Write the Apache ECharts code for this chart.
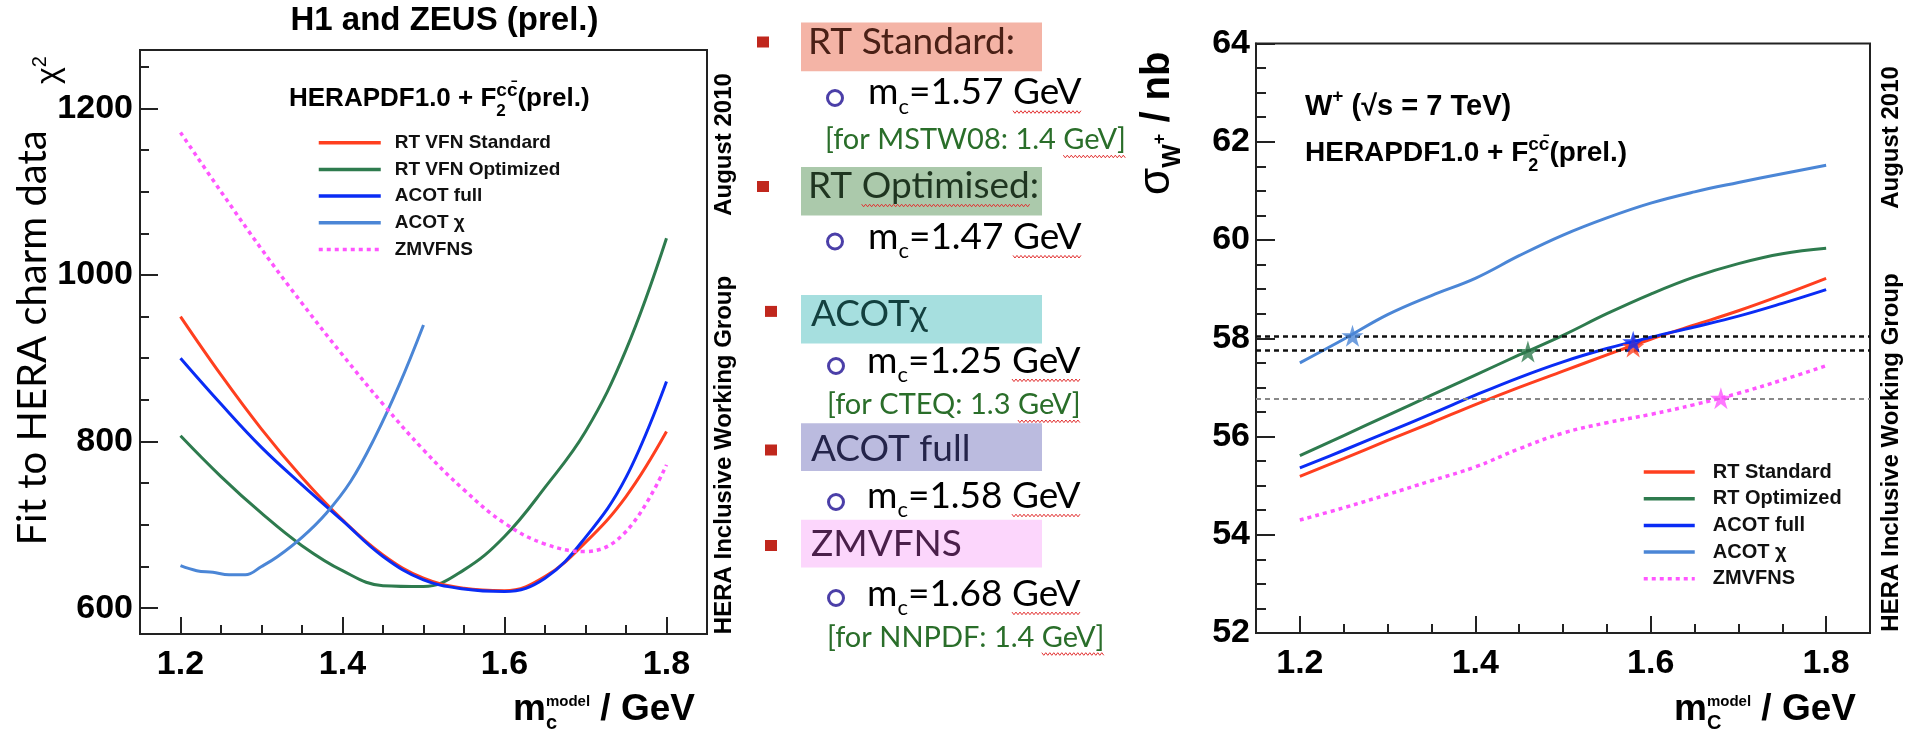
<!DOCTYPE html>
<html>
<head>
<meta charset="utf-8">
<script src="https://cdn.jsdelivr.net/npm/echarts@6/dist/echarts.min.js"></script>
<style>
  html, body { margin: 0; padding: 0; background: #fff; }
  #chart { width: 1912px; height: 731px; }
</style>
</head>
<body>
<div id="chart"></div>
<script>
// ---- left panel: chi2 of the fit to HERA charm data vs m_c ----
const mcGrid = [1.2, 1.25, 1.3, 1.35, 1.4, 1.45, 1.5, 1.55, 1.6, 1.65, 1.7, 1.75, 1.8];
const chi2RtStandard = [950, 880, 815, 757, 706, 664, 636, 624, 621, 638, 679, 734, 812];
const chi2RtOptimized = [807, 758, 714, 675, 645, 627, 626, 646, 686, 745, 812, 910, 1044];
const chi2AcotFull = [900, 845, 793, 748, 705, 662, 634, 623, 620, 636, 685, 757, 872];
const chi2Zmvfns = [1171, 1100, 1031, 966, 904, 845, 790, 742, 702, 677, 668, 692, 772];
const mcAcotChi = [1.2, 1.22, 1.24, 1.26, 1.28, 1.3, 1.32, 1.35, 1.38, 1.41, 1.44, 1.47, 1.5];
const chi2AcotChi = [651, 645, 643, 640, 640, 650, 662, 685, 714, 752, 805, 868, 940];

// ---- right panel: W+ cross section at 7 TeV vs m_c ----
const sigmaRtStandard = [55.19, 55.55, 55.92, 56.28, 56.65, 57.0, 57.33, 57.66, 57.98, 58.27, 58.56, 58.88, 59.22];
const sigmaRtOptimized = [55.61, 56.02, 56.43, 56.84, 57.25, 57.66, 58.06, 58.5, 58.9, 59.25, 59.52, 59.72, 59.83];
const sigmaAcotFull = [55.36, 55.72, 56.09, 56.46, 56.84, 57.2, 57.52, 57.79, 58.02, 58.23, 58.45, 58.71, 58.99];
const sigmaAcotChi = [57.5, 57.98, 58.48, 58.87, 59.22, 59.68, 60.1, 60.45, 60.75, 60.98, 61.17, 61.35, 61.52];
const sigmaZmvfns = [54.3, 54.55, 54.82, 55.1, 55.38, 55.75, 56.07, 56.28, 56.45, 56.65, 56.88, 57.15, 57.44];

// best-fit points (stars) and the horizontal reference lines through them
const starMc = [1.26, 1.46, 1.58, 1.58, 1.68];
const starSigma = [58.05, 57.73, 57.83, 57.93, 56.78];
const starScheme = ['acotChi', 'rtOpt', 'rtStd', 'acotFull', 'zm'];
const refSigma = [58.05, 57.75, 56.77];

// ticks
const mcMajorTicks = [1.2, 1.4, 1.6, 1.8];
const mcMinorTicks = [1.2, 1.25, 1.3, 1.35, 1.4, 1.45, 1.5, 1.55, 1.6, 1.65, 1.7, 1.75, 1.8];
const chi2MajorTicks = [600, 800, 1000, 1200];
const chi2MinorTicks = [600, 650, 700, 750, 800, 850, 900, 950, 1000, 1050, 1100, 1150, 1200, 1250];

// legend names
const leftNames = ['RT VFN Standard', 'RT VFN Optimized', 'ACOT full', 'ACOT χ', 'ZMVFNS'];
const rightNames = ['RT Standard', 'RT Optimized', 'ACOT full', 'ACOT χ', 'ZMVFNS'];

// middle panel text
const schemeLabels = ['RT Standard:', 'RT Optimised:', 'ACOTχ', 'ACOT full', 'ZMVFNS'];
const bestMc = ['1.57', '1.47', '1.25', '1.58', '1.68'];
const otherNotes = ['[for MSTW08: 1.4 GeV]', null, '[for CTEQ: 1.3 GeV]', null, '[for NNPDF: 1.4 GeV]'];

const colors = {
  rtStd: '#ff3f1f',
  rtOpt: '#2e7b4e',
  acotFull: '#0a2cf5',
  acotChi: '#4b86d6',
  zm: '#ff55ff'
};
const SANS = "'Liberation Sans', Arial, sans-serif";
const GILL = "Lato, 'Open Sans', sans-serif";

// --- text helpers (measure so sub/superscripts line up) ---
const measureCtx = document.createElement('canvas').getContext('2d');
function textWidth(str, font) {
  measureCtx.font = font;
  return measureCtx.measureText(str).width;
}
function midOffset(font, size) {
  measureCtx.font = font;
  const m = measureCtx.measureText('Hg');
  if (m.fontBoundingBoxAscent !== undefined) {
    return (m.fontBoundingBoxAscent - m.fontBoundingBoxDescent) / 2;
  }
  return size * 0.35;
}
function runText(x, baseline, parts, out) {
  let cx = x;
  const pos = [];
  parts.forEach((p) => {
    const font = (p.weight || 'normal') + ' ' + p.size + 'px ' + (p.family || SANS);
    const w = textWidth(p.t, font);
    pos.push([cx, cx + w]);
    out.push({
      type: 'text',
      silent: true,
      z: 10,
      style: {
        text: p.t,
        x: cx,
        y: baseline + (p.dy || 0) - midOffset(font, p.size),
        font: font,
        fill: p.fill || '#000',
        align: 'left',
        verticalAlign: 'middle'
      }
    });
    if (!p.stay) cx += w;
  });
  return pos;
}
function wavy(x0, x1, y, out) {
  const pts = [];
  let k = 0;
  for (let x = x0; x <= x1; x += 2, k++) pts.push([x, y + (k % 2 ? 1.3 : -1.3)]);
  out.push({ type: 'polyline', silent: true, z: 9, shape: { points: pts }, style: { stroke: '#e23030', lineWidth: 1, fill: null } });
}
function rotated(x, y, children) {
  return { type: 'group', x: x, y: y, rotation: Math.PI / 2, children: children };
}
function vertLabel(x, y, text, size) {
  return {
    type: 'text', silent: true, x: x, y: y, rotation: Math.PI / 2,
    style: { text: text, x: 0, y: 0, font: 'bold ' + size + 'px ' + SANS, fill: '#000', align: 'center', verticalAlign: 'middle' }
  };
}

const graphics = [];

// left panel titles
{
  const f = 'bold 33px ' + SANS;
  const w = textWidth('H1 and ZEUS (prel.)', f);
  runText(444.5 - w / 2, 32, [{ t: 'H1 and ZEUS (prel.)', size: 33, weight: 'bold' }], graphics);
  runText(289, 108, [
    { t: 'HERAPDF1.0 + F', size: 26, weight: 'bold' },
    { t: '2', size: 17, weight: 'bold', dy: 9, stay: true },
    { t: 'cc̄', size: 19, weight: 'bold', dy: -11 },
    { t: '(prel.)', size: 26, weight: 'bold' }
  ], graphics);
  // y title
  const yt = [];
  runText(0, 0, [{ t: 'Fit to HERA charm data', size: 40, family: GILL }], yt);
  graphics.push(rotated(48, 545.5, yt));
  const chi = [];
  runText(0, 0, [
    { t: 'χ', size: 32 },
    { t: '2', size: 20, dy: -13 }
  ], chi);
  graphics.push(rotated(60, 84, chi));
  // x title
  runText(513, 722, [
    { t: 'm', size: 37, weight: 'bold' },
    { t: 'c', size: 20, weight: 'bold', dy: 8, stay: true },
    { t: 'model', size: 15, weight: 'bold', dy: -15 },
    { t: ' / GeV', size: 37, weight: 'bold' }
  ], graphics);
  graphics.push(vertLabel(724, 144.5, 'August 2010', 24));
  graphics.push(vertLabel(724, 455, 'HERA Inclusive Working Group', 24));
}

// right panel titles
{
  runText(1305, 116.5, [
    { t: 'W', size: 29, weight: 'bold' },
    { t: '+', size: 19, weight: 'bold', dy: -13 },
    { t: ' (√s = 7 TeV)', size: 29, weight: 'bold' }
  ], graphics);
  runText(1305, 163, [
    { t: 'HERAPDF1.0 + F', size: 28, weight: 'bold' },
    { t: '2', size: 18, weight: 'bold', dy: 9, stay: true },
    { t: 'cc̄', size: 19, weight: 'bold', dy: -12 },
    { t: '(prel.)', size: 28, weight: 'bold' }
  ], graphics);
  const yt = [];
  runText(0, 0, [
    { t: 'σ', size: 44 },
    { t: 'W', size: 25, weight: 'bold', dy: 10 },
    { t: '+', size: 18, weight: 'bold', dy: -6 },
    { t: ' / nb', size: 40, weight: 'bold' }
  ], yt);
  graphics.push(rotated(1172, 195, yt));
  runText(1674, 722, [
    { t: 'm', size: 37, weight: 'bold' },
    { t: 'C', size: 20, weight: 'bold', dy: 8, stay: true },
    { t: 'model', size: 15, weight: 'bold', dy: -15 },
    { t: ' / GeV', size: 37, weight: 'bold' }
  ], graphics);
  graphics.push(vertLabel(1891, 137.5, 'August 2010', 24));
  graphics.push(vertLabel(1891, 452.5, 'HERA Inclusive Working Group', 24));
}

// middle panel: summary list
const listLayout = [
  { bx: 763, by: 42, top: 22.4, bot: 71.3, base: 57, lx: 808, mcx: 868, mcBase: 107, cx: 835, cy: 98, noteX: 825, noteBase: 151.5, fill: '#f4b4a6', ink: '#4a2016' },
  { bx: 763, by: 186.5, top: 167, bot: 215.4, base: 200.5, lx: 808, mcx: 868, mcBase: 251.7, cx: 835, cy: 241.5, fill: '#abc9ab', ink: '#1f3520', wavyLabel: true },
  { bx: 771, by: 311.4, top: 295, bot: 343.6, base: 328.7, lx: 811, mcx: 867, mcBase: 375.3, cx: 836, cy: 366, noteX: 827, noteBase: 416.3, fill: '#a6dfdf', ink: '#13403f' },
  { bx: 771, by: 450, top: 423.3, bot: 470.9, base: 463.9, lx: 811, mcx: 867, mcBase: 510.5, cx: 836, cy: 502, fill: '#bbbbdf', ink: '#24244a' },
  { bx: 771, by: 545.5, top: 519.8, bot: 567.4, base: 558.5, lx: 811, mcx: 867, mcBase: 608.4, cx: 836, cy: 598, noteX: 827, noteBase: 649, fill: '#fcd6fc', ink: '#4a1f4a' }
];
schemeLabels.forEach((label, i) => {
  const L = listLayout[i];
  graphics.push({ type: 'rect', silent: true, z: 5, shape: { x: 801, y: L.top, width: 241, height: L.bot - L.top }, style: { fill: L.fill } });
  graphics.push({ type: 'rect', silent: true, z: 5, shape: { x: L.bx - 6, y: L.by - 5.5, width: 12, height: 11 }, style: { fill: '#c0271d' } });
  runText(L.lx, L.base, [{ t: label, size: 37, family: GILL, fill: L.ink }], graphics);
  if (L.wavyLabel) {
    const f = 'normal 37px ' + GILL;
    const x0 = L.lx + textWidth('RT ', f);
    wavy(x0, x0 + textWidth('Optimised', f), L.base + 5, graphics);
  }
  graphics.push({ type: 'circle', silent: true, z: 5, shape: { cx: L.cx, cy: L.cy, r: 7.5 }, style: { fill: null, stroke: '#4b3fa8', lineWidth: 3 } });
  const mp = runText(L.mcx, L.mcBase, [
    { t: 'm', size: 37, family: GILL },
    { t: 'c', size: 22, family: GILL, dy: 8 },
    { t: '=' + bestMc[i] + ' ', size: 37, family: GILL },
    { t: 'GeV', size: 37, family: GILL }
  ], graphics);
  wavy(mp[3][0], mp[3][1], L.mcBase + 5, graphics);
  if (otherNotes[i]) {
    const note = otherNotes[i];
    const head = note.slice(0, note.indexOf('GeV'));
    const np = runText(L.noteX, L.noteBase, [
      { t: head, size: 29, family: GILL, fill: '#2a6e2a' },
      { t: 'GeV', size: 29, family: GILL, fill: '#2a6e2a' },
      { t: ']', size: 29, family: GILL, fill: '#2a6e2a' }
    ], graphics);
    wavy(np[1][0], np[2][1], L.noteBase + 5, graphics);
  }
});

// --- axes ---
const tickStyle = { color: '#222', width: 2 };
const labelStyle = { color: '#000', fontFamily: SANS, fontWeight: 'bold', fontSize: 34 };
function mcAxes(gridIndex) {
  return [
    {
      gridIndex, type: 'value', min: 1.15, max: 1.85, position: 'bottom',
      axisLine: { show: true, onZero: false, lineStyle: tickStyle },
      axisTick: { show: true, inside: true, length: 17, customValues: mcMajorTicks, lineStyle: tickStyle },
      axisLabel: Object.assign({ customValues: mcMajorTicks, margin: 14, formatter: (v) => v.toFixed(1) }, labelStyle),
      splitLine: { show: false }
    },
    {
      gridIndex, type: 'value', min: 1.15, max: 1.85, position: 'bottom',
      axisLine: { show: false },
      axisTick: { show: true, inside: true, length: 9, customValues: mcMinorTicks, lineStyle: tickStyle },
      axisLabel: { show: false },
      splitLine: { show: false }
    }
  ];
}

function line(name, xs, ys, color, xi, yi, extra) {
  return Object.assign({
    name, type: 'line', xAxisIndex: xi, yAxisIndex: yi,
    data: xs.map((x, k) => [x, ys[k]]),
    smooth: 0.4, symbol: 'none', showSymbol: false, silent: true,
    lineStyle: { color, width: 3 }, itemStyle: { color },
    z: 3
  }, extra || {});
}
const dotted = { type: [4, 4], width: 3.5 };

const starPath = 'path://M50,0 L61,35 L98,35 L68,57 L79,91 L50,70 L21,91 L32,57 L2,35 L39,35 Z';

const legendBase = {
  orient: 'vertical', padding: 0, itemHeight: 14, itemGap: 6.7, selectedMode: false,
  itemStyle: { opacity: 0 },
  lineStyle: { width: 3.5 }
};

const option = {
  animation: false,
  backgroundColor: '#fff',
  grid: [
    { left: 140, top: 50, width: 567, height: 584, show: true, borderColor: '#222', borderWidth: 2, backgroundColor: 'transparent' },
    { left: 1256, top: 43.5, width: 614, height: 589.5, show: true, borderColor: '#222', borderWidth: 2, backgroundColor: 'transparent' }
  ],
  xAxis: mcAxes(0).concat(mcAxes(1)),
  yAxis: [
    {
      gridIndex: 0, type: 'value', min: 569, max: 1270, position: 'left',
      axisLine: { show: true, onZero: false, lineStyle: tickStyle },
      axisTick: { show: true, inside: true, length: 18, customValues: chi2MajorTicks, lineStyle: tickStyle },
      axisLabel: Object.assign({ customValues: chi2MajorTicks, margin: 7, formatter: (v) => String(v) }, labelStyle),
      splitLine: { show: false }
    },
    {
      gridIndex: 0, type: 'value', min: 569, max: 1270, position: 'left',
      axisLine: { show: false },
      axisTick: { show: true, inside: true, length: 9, customValues: chi2MinorTicks, lineStyle: tickStyle },
      axisLabel: { show: false },
      splitLine: { show: false }
    },
    {
      gridIndex: 1, type: 'value', min: 52, max: 64, interval: 2, position: 'left',
      axisLine: { show: true, onZero: false, lineStyle: tickStyle },
      axisTick: { show: true, inside: true, length: 19, lineStyle: tickStyle },
      minorTick: { show: true, splitNumber: 4, length: 10, lineStyle: tickStyle },
      axisLabel: Object.assign({ margin: 6, formatter: (v) => String(v) }, labelStyle),
      splitLine: { show: false },
      minorSplitLine: { show: false }
    }
  ],
  legend: [
    Object.assign({
      data: leftNames, left: 317, top: 132.7, itemWidth: 62,
      textStyle: { fontFamily: SANS, fontWeight: 'bold', fontSize: 19, color: '#111', lineHeight: 20, padding: [0, 0, 0, 9] }
    }, legendBase),
    Object.assign({
      data: rightNames, left: 1642, top: 462, itemWidth: 51,
      textStyle: { fontFamily: SANS, fontWeight: 'bold', fontSize: 20, color: '#111', lineHeight: 20, padding: [0, 0, 0, 13] }
    }, legendBase)
  ],
  series: [
    line('RT VFN Optimized', mcGrid, chi2RtOptimized, colors.rtOpt, 0, 0),
    line('RT VFN Standard', mcGrid, chi2RtStandard, colors.rtStd, 0, 0),
    line('ACOT full', mcGrid, chi2AcotFull, colors.acotFull, 0, 0),
    line('ACOT χ', mcAcotChi, chi2AcotChi, colors.acotChi, 0, 0),
    line('ZMVFNS', mcGrid, chi2Zmvfns, colors.zm, 0, 0, { lineStyle: Object.assign({ color: colors.zm }, dotted) }),

    {
      name: 'refs', type: 'line', xAxisIndex: 2, yAxisIndex: 2, data: [], silent: true, z: 1,
      markLine: {
        silent: true, symbol: ['none', 'none'], label: { show: false }, animation: false,
        data: refSigma.map((v, i) => ({
          yAxis: v,
          lineStyle: { color: i < 2 ? '#111' : '#888', type: [5, 4], width: i < 2 ? 2.5 : 2 }
        }))
      }
    },
    line('RT Optimized', mcGrid, sigmaRtOptimized, colors.rtOpt, 2, 2),
    line('RT Standard', mcGrid, sigmaRtStandard, colors.rtStd, 2, 2),
    line('ACOT full', mcGrid, sigmaAcotFull, colors.acotFull, 2, 2),
    line('ACOT χ', mcGrid, sigmaAcotChi, colors.acotChi, 2, 2),
    line('ZMVFNS', mcGrid, sigmaZmvfns, colors.zm, 2, 2, { lineStyle: Object.assign({ color: colors.zm }, dotted) }),
    {
      name: 'best fit', type: 'scatter', xAxisIndex: 2, yAxisIndex: 2, silent: true, z: 6,
      symbol: starPath, symbolSize: 22,
      data: starMc.map((x, i) => ({ value: [x, starSigma[i]], itemStyle: { color: colors[starScheme[i]] } }))
    }
  ],
  graphic: { elements: graphics }
};

const chart = echarts.init(document.getElementById('chart'), null, { renderer: 'canvas' });
chart.setOption(option);
</script>
</body>
</html>
